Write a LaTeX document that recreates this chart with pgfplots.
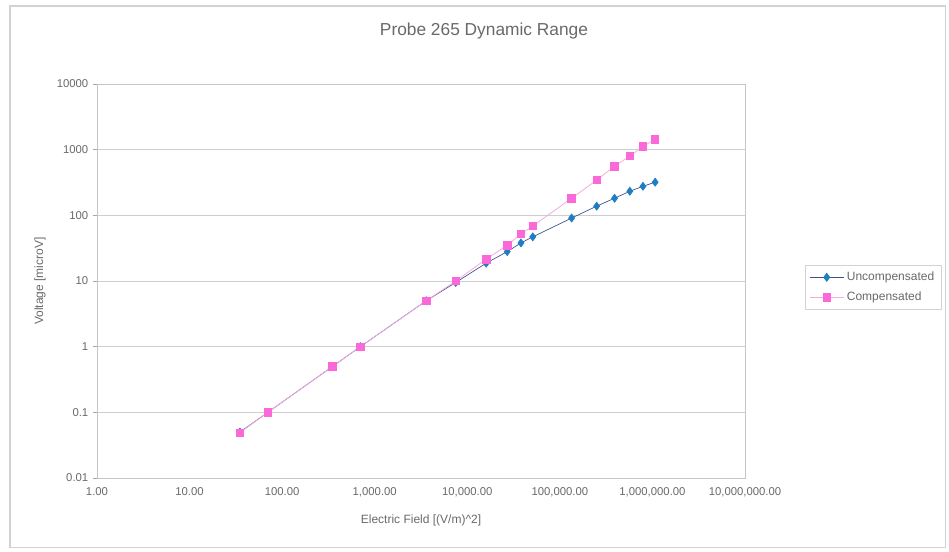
\documentclass[border=0pt]{standalone}
\usepackage{fontspec}
\setmainfont{Liberation Sans}
\usepackage{pgfplots}
\pgfplotsset{compat=1.18}

\definecolor{txt}{RGB}{105,105,105}
\definecolor{gridc}{RGB}{205,205,212}
\definecolor{uncomp}{RGB}{30,125,195}
\definecolor{uncline}{RGB}{60,80,140}
\definecolor{comp}{RGB}{250,105,215}
\definecolor{compline}{RGB}{245,170,225}

\begin{document}
\begin{tikzpicture}
% whole chart is 949 x 551 px, 1 px = 0.75pt
\path[use as bounding box] (0,0) rectangle (711.75pt,-413.25pt);
\draw[gray!35, line width=1pt] (7.5pt,-4.5pt) rectangle (709pt,-410.5pt);
\node[txt, font=\fontsize{13}{15}\selectfont] at (363pt,-23pt) {Probe 265 Dynamic Range};

\begin{axis}[
    at={(72.75pt,-358.5pt)}, anchor=south west,
    scale only axis,
    width=486pt, height=295.5pt,
    xmode=log, ymode=log,
    xmin=1, xmax=1e7,
    ymin=0.01, ymax=10000,
    xtick={1,10,100,1000,10000,100000,1000000,10000000},
    xticklabels={1.00,10.00,100.00,{1,000.00},{10,000.00},{100,000.00},{1,000,000.00},{10,000,000.00}},
    ytick={0.01,0.1,1,10,100,1000,10000},
    yticklabels={0.01,0.1,1,10,100,1000,10000},
    xminorticks=false, yminorticks=false,
    xtick style={draw=none},
    ytick pos=left,
    ytick style={gray!70, line width=0.4pt},
    tick align=outside,
    major tick length=3pt,
    yticklabel style={font=\fontsize{8.5}{10}\selectfont, txt},
    xticklabel style={font=\fontsize{8.5}{10}\selectfont, txt, yshift=-1pt},
    ymajorgrids=true,
    grid style={gridc, line width=0.6pt},
    axis line style={gray!45},
    xlabel={Electric Field [(V/m)\textasciicircum 2]},
    ylabel={Voltage [microV]},
    xlabel style={font=\fontsize{9}{10}\selectfont, txt,
        at={(axis description cs:0.5,-0.1066)}, anchor=center},
    ylabel style={font=\fontsize{9}{10}\selectfont, txt,
        at={(axis description cs:-0.088,0.5)}, anchor=center},
    legend style={at={(1.0926,0.5406)}, anchor=north west,
        font=\fontsize{9}{10}\selectfont, text=txt, draw=gray!35,
        row sep=3pt, inner xsep=3pt, inner ysep=3pt},
    legend cell align=left,
    legend image code/.code={
        \draw[mark repeat=2, mark phase=2, #1]
            plot coordinates {(0cm,0cm) (0.45cm,0cm) (0.9cm,0cm)};
    },
]

\addplot[uncline, line width=0.5pt, mark=diamond*, mark size=3pt,
    mark options={fill=uncomp, draw=uncomp}] coordinates {
    (35, 0.05) (70, 0.1) (350, 0.5) (700, 1) (3600, 5) (7500, 9.5)
    (16000, 18.7) (27000, 28) (38000, 38) (51000, 47)
    (134000, 91) (250000, 138) (390000, 182) (570000, 233) (790000, 277) (1070000, 320)
};
\addlegendentry{Uncompensated}

\addplot[compline, line width=0.6pt, mark=square*, mark size=2.8pt,
    mark options={fill=comp, draw=comp}] coordinates {
    (35, 0.049) (70, 0.1) (350, 0.5) (700, 1) (3600, 5) (7500, 10)
    (16000, 21.5) (27000, 35) (38000, 52) (51000, 69)
    (134000, 182) (250000, 345) (390000, 560) (570000, 800) (790000, 1120) (1070000, 1440)
};
\addlegendentry{Compensated}

\end{axis}
\end{tikzpicture}
\end{document}
